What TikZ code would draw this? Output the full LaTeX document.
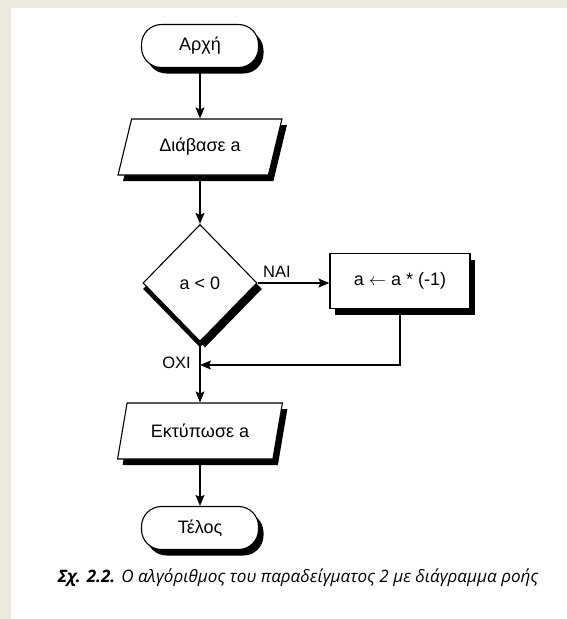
\documentclass[tikz,border=0pt]{standalone}
\usepackage{fontspec}
\setmainfont{Liberation Sans}
\newfontfamily\capfont{Open Sans}
\usetikzlibrary{shapes.geometric,shadows,arrows.meta}
\definecolor{framebg}{RGB}{236,233,223}
\tikzset{
  box/.style={draw=black, fill=white, line width=1.1pt, inner sep=0pt,
    font=\fontsize{18}{20}\selectfont,
    drop shadow={shadow xshift=5pt, shadow yshift=-6pt, opacity=1, fill=black}},
  terminal/.style={box, rounded corners=20pt, minimum width=117pt, minimum height=43pt},
  io/.style={box, trapezium, trapezium left angle=65, trapezium right angle=115,
    trapezium stretches=true, minimum width=165pt, minimum height=56pt},
  decision/.style={box, diamond, aspect=1, minimum width=114pt, minimum height=117pt,
    drop shadow={shadow xshift=0pt, shadow yshift=-6pt, opacity=1, fill=black}},
  process/.style={box, rectangle, minimum width=140pt, minimum height=55pt},
  arr/.style={line width=1.1pt, -{Stealth[length=11pt,width=9pt,inset=2pt]}},
  lbl/.style={font=\fontsize{16.5}{18}\selectfont, inner sep=0pt}
}
\begin{document}
\begin{tikzpicture}[x=1pt,y=-1pt]
  % page and frame strips
  \fill[white] (0,0) rectangle (567,619);
  \fill[framebg] (0,0) rectangle (567,8);
  \fill[framebg] (0,0) rectangle (11,619);
  \useasboundingbox (0,0) rectangle (567,619);

  % flowchart nodes
  \node[terminal] (start) at (200,46) {Αρχή};
  \node[io] (read) at (200,147) {Διάβασε a};
  \node[decision] (test) at (200,283) {a < 0};
  \node[process] (neg) at (400,281) {a \ensuremath{\leftarrow} a * (-1)};
  \node[io] (print) at (200,431) {Εκτύπωσε a};
  \node[terminal] (stop) at (200,528) {Τέλος};
  \coordinate (merge) at (200,365);

  % connectors
  \draw[arr] (start.south) -- (start.south |- read.north);
  \draw[arr] (read.south -| test.north) -- (test.north);
  \draw[arr] (test.east) -- (neg.west |- test.east)
    node[lbl, pos=0.27, above=5pt] (yes) {ΝΑΙ};
  \draw[arr] (test.south) -- (test.south |- print.north);
  \draw[arr] (neg.south) |- (merge);
  \node[lbl, anchor=east] (no) at (191,363) {ΟΧΙ};
  \draw[arr] (print.south -| stop.north) -- (stop.north);

  % caption
  \node[font=\capfont\itshape\fontsize{17.1}{20}\selectfont] (caption) at (298,578)
    {\textbf{Σχ. 2.2.} Ο αλγόριθμος του παραδείγματος 2 με διάγραμμα ροής};
\end{tikzpicture}
\end{document}
